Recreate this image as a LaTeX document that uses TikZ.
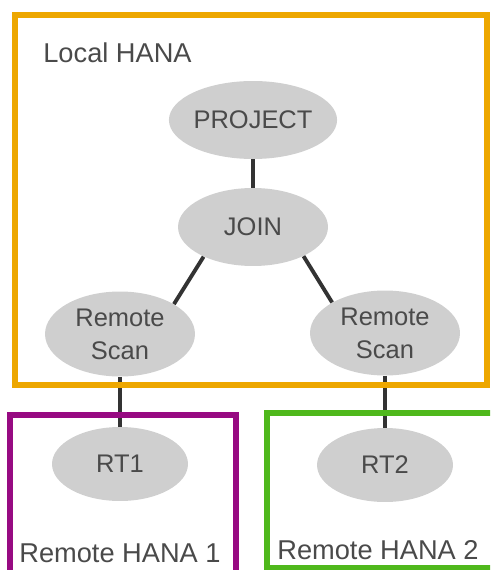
\documentclass[tikz,border=0pt]{standalone}
\usepackage{fontspec}
\setmainfont{Liberation Sans}
\usepackage{xcolor}
\usepackage{tikz}
\usetikzlibrary{shapes.geometric}

\definecolor{hanaorange}{HTML}{EDA700}
\definecolor{hanapurple}{HTML}{970A82}
\definecolor{hanagreen}{HTML}{4FB81C}
\definecolor{opfill}{HTML}{CFCFCF}
\definecolor{optext}{HTML}{4A4A4A}

\begin{document}
\begin{tikzpicture}[x=0.02cm, y=-0.02cm,
    opnode/.style={ellipse, fill=opfill, inner sep=0pt, minimum width=3cm, minimum height=1.56cm, align=center, text=optext, font=\fontsize{14.5}{18.7}\selectfont},
    link/.style={line width=2.2pt, draw=black!80},
    sysbox/.style={line width=3.6pt},
    syslabel/.style={anchor=base west, inner sep=0pt, text=optext, font=\fontsize{15.5}{17}\selectfont}
]
\useasboundingbox (0,0) rectangle (490,570);
\clip (0,0) rectangle (490,570);

\node[opnode] (project) at (253,120) {PROJECT};
\node[opnode] (join)    at (253,227) {JOIN};
\node[opnode, minimum height=1.7cm] (scan1) at (120,334) {Remote\\Scan};
\node[opnode, minimum height=1.7cm] (scan2) at (385,333) {Remote\\Scan};
\node[opnode, minimum width=2.72cm, minimum height=1.48cm] (rt1) at (120,464) {RT1};
\node[opnode, minimum width=2.72cm, minimum height=1.48cm] (rt2) at (385,465) {RT2};

\draw[link] (project) -- (join);
\draw[link] (join.211) -- (scan1.29);
\draw[link] (join.330) -- (scan2.150);
\draw[link] (scan1) -- (rt1);
\draw[link] (scan2) -- (rt2);

% system boundaries
\draw[sysbox, hanaorange] (15,15) rectangle (487,385);
\draw[sysbox, hanapurple] (10,415) rectangle (236,590);
\draw[sysbox, hanagreen] (267,413) rectangle (500,568);

\node[syslabel] (local)   at (43,63)  {Local HANA};
\node[syslabel] (remote1) at (19,562) {Remote HANA 1};
\node[syslabel] (remote2) at (277,559) {Remote HANA 2};
\end{tikzpicture}
\end{document}
